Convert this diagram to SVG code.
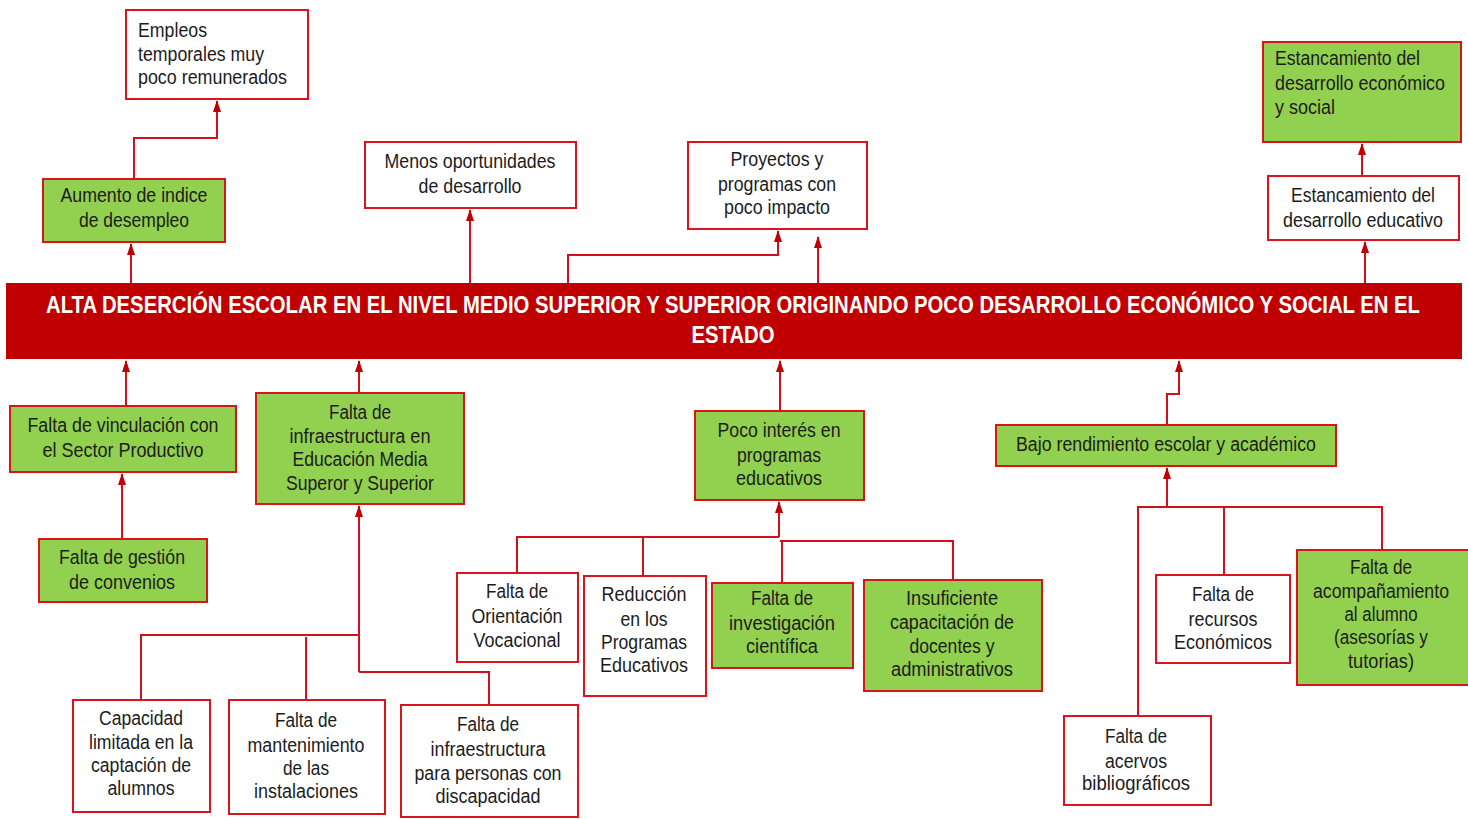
<svg xmlns="http://www.w3.org/2000/svg" width="1468" height="819" viewBox="0 0 1468 819">
<style>
.w{fill:#ffffff;stroke:#D8141C;stroke-width:2}
.g{fill:#92D050;stroke:#D8141C;stroke-width:2}
.t{font-family:"Liberation Sans",Arial,sans-serif;font-size:20px;fill:#1c1c1c;text-anchor:middle;dominant-baseline:central}
.s{text-anchor:start}
.b{font-family:"Liberation Sans",Arial,sans-serif;font-size:23px;font-weight:bold;fill:#ffffff;text-anchor:middle;dominant-baseline:central}
.c{fill:none;stroke:#D0101A;stroke-width:2}
.a{marker-end:url(#ah)}
</style>
<defs>
<marker id="ah" viewBox="0 0 12 8" refX="11" refY="4" markerWidth="12" markerHeight="8" markerUnits="userSpaceOnUse" orient="auto">
<path d="M0,0 L12,4 L0,8 z" fill="#C00000"/>
</marker>
</defs>
<rect width="1468" height="819" fill="#ffffff"/>

<g id="connectors">
<path class="c a" d="M131,283 V244"/>
<path class="c a" d="M134,179 V138 H217 V101"/>
<path class="c a" d="M470,283 V210"/>
<path class="c a" d="M568,283 V255 H778 V231"/>
<path class="c a" d="M818,283 V237"/>
<path class="c a" d="M1365,283 V242"/>
<path class="c a" d="M1362,176 V144"/>
<path class="c a" d="M126,406 V361"/>
<path class="c a" d="M122,539 V474"/>
<path class="c a" d="M359,393 V361"/>
<path class="c a" d="M780,411 V361"/>
<path class="c a" d="M1167,425 V394 H1179 V361"/>
<path class="c a" d="M359,672 V506"/>
<path class="c" d="M141,700 V635 H359"/>
<path class="c" d="M306,700 V637"/>
<path class="c" d="M489,705 V672 H359"/>
<path class="c a" d="M779,537 V502"/>
<path class="c" d="M517,573 V537 H779"/>
<path class="c" d="M643,576 V537"/>
<path class="c" d="M953,580 V541 H780"/>
<path class="c" d="M782,583 V541"/>
<path class="c a" d="M1167,507 V468"/>
<path class="c" d="M1138,716 V507 H1382 V550"/>
<path class="c" d="M1224,575 V507"/>
</g>

<g id="banner">
<rect x="6" y="283" width="1456" height="76" fill="#C00000"/>
<text class="b" x="733" y="305" textLength="1374" lengthAdjust="spacingAndGlyphs">ALTA DESERCIÓN ESCOLAR EN EL NIVEL MEDIO SUPERIOR Y SUPERIOR ORIGINANDO POCO DESARROLLO ECONÓMICO Y SOCIAL EN EL</text>
<text class="b" x="733" y="335" textLength="83" lengthAdjust="spacingAndGlyphs">ESTADO</text>
</g>

<g id="empleos">
<rect class="w" x="126" y="10" width="182" height="89"/>
<text class="t s" x="138" y="30" textLength="69" lengthAdjust="spacingAndGlyphs">Empleos</text>
<text class="t s" x="138" y="54" textLength="126" lengthAdjust="spacingAndGlyphs">temporales muy</text>
<text class="t s" x="138" y="77" textLength="149" lengthAdjust="spacingAndGlyphs">poco remunerados</text>
</g>

<g id="aumento">
<rect class="g" x="43" y="179" width="182" height="63"/>
<text class="t" x="134" y="195" textLength="147" lengthAdjust="spacingAndGlyphs">Aumento de indice</text>
<text class="t" x="134" y="220" textLength="110" lengthAdjust="spacingAndGlyphs">de desempleo</text>
</g>

<g id="menos">
<rect class="w" x="365" y="142" width="211" height="66"/>
<text class="t" x="470" y="161" textLength="171" lengthAdjust="spacingAndGlyphs">Menos oportunidades</text>
<text class="t" x="470" y="186" textLength="103" lengthAdjust="spacingAndGlyphs">de desarrollo</text>
</g>

<g id="proyectos">
<rect class="w" x="688" y="142" width="179" height="87"/>
<text class="t" x="777" y="159" textLength="93" lengthAdjust="spacingAndGlyphs">Proyectos y</text>
<text class="t" x="777" y="184" textLength="118" lengthAdjust="spacingAndGlyphs">programas con</text>
<text class="t" x="777" y="207" textLength="106" lengthAdjust="spacingAndGlyphs">poco impacto</text>
</g>

<g id="estancamiento-economico">
<rect class="g" x="1263" y="42" width="198" height="100"/>
<text class="t s" x="1275" y="58" textLength="145" lengthAdjust="spacingAndGlyphs">Estancamiento del</text>
<text class="t s" x="1275" y="83" textLength="170" lengthAdjust="spacingAndGlyphs">desarrollo económico</text>
<text class="t s" x="1275" y="107" textLength="60" lengthAdjust="spacingAndGlyphs">y social</text>
</g>

<g id="estancamiento-educativo">
<rect class="w" x="1268" y="176" width="191" height="64"/>
<text class="t" x="1363" y="195" textLength="144" lengthAdjust="spacingAndGlyphs">Estancamiento del</text>
<text class="t" x="1363" y="220" textLength="160" lengthAdjust="spacingAndGlyphs">desarrollo educativo</text>
</g>

<g id="vinculacion">
<rect class="g" x="10" y="406" width="226" height="66"/>
<text class="t" x="123" y="425" textLength="191" lengthAdjust="spacingAndGlyphs">Falta de vinculación con</text>
<text class="t" x="123" y="450" textLength="161" lengthAdjust="spacingAndGlyphs">el Sector Productivo</text>
</g>

<g id="gestion">
<rect class="g" x="39" y="539" width="168" height="63"/>
<text class="t" x="122" y="557" textLength="126" lengthAdjust="spacingAndGlyphs">Falta de gestión</text>
<text class="t" x="122" y="582" textLength="106" lengthAdjust="spacingAndGlyphs">de convenios</text>
</g>

<g id="infraestructura">
<rect class="g" x="256" y="393" width="208" height="111"/>
<text class="t" x="360" y="412" textLength="62" lengthAdjust="spacingAndGlyphs">Falta de</text>
<text class="t" x="360" y="436" textLength="141" lengthAdjust="spacingAndGlyphs">infraestructura en</text>
<text class="t" x="360" y="459" textLength="135" lengthAdjust="spacingAndGlyphs">Educación Media</text>
<text class="t" x="360" y="483" textLength="148" lengthAdjust="spacingAndGlyphs">Superor y Superior</text>
</g>

<g id="capacidad">
<rect class="w" x="73" y="700" width="137" height="112"/>
<text class="t" x="141" y="718" textLength="84" lengthAdjust="spacingAndGlyphs">Capacidad</text>
<text class="t" x="141" y="742" textLength="104" lengthAdjust="spacingAndGlyphs">limitada en la</text>
<text class="t" x="141" y="765" textLength="100" lengthAdjust="spacingAndGlyphs">captación de</text>
<text class="t" x="141" y="788" textLength="67" lengthAdjust="spacingAndGlyphs">alumnos</text>
</g>

<g id="mantenimiento">
<rect class="w" x="229" y="700" width="156" height="114"/>
<text class="t" x="306" y="720" textLength="62" lengthAdjust="spacingAndGlyphs">Falta de</text>
<text class="t" x="306" y="745" textLength="117" lengthAdjust="spacingAndGlyphs">mantenimiento</text>
<text class="t" x="306" y="768" textLength="46" lengthAdjust="spacingAndGlyphs">de las</text>
<text class="t" x="306" y="791" textLength="104" lengthAdjust="spacingAndGlyphs">instalaciones</text>
</g>

<g id="discapacidad">
<rect class="w" x="401" y="705" width="177" height="112"/>
<text class="t" x="488" y="724" textLength="62" lengthAdjust="spacingAndGlyphs">Falta de</text>
<text class="t" x="488" y="749" textLength="115" lengthAdjust="spacingAndGlyphs">infraestructura</text>
<text class="t" x="488" y="773" textLength="147" lengthAdjust="spacingAndGlyphs">para personas con</text>
<text class="t" x="488" y="796" textLength="105" lengthAdjust="spacingAndGlyphs">discapacidad</text>
</g>

<g id="poco-interes">
<rect class="g" x="695" y="411" width="169" height="89"/>
<text class="t" x="779" y="430" textLength="123" lengthAdjust="spacingAndGlyphs">Poco interés en</text>
<text class="t" x="779" y="455" textLength="84" lengthAdjust="spacingAndGlyphs">programas</text>
<text class="t" x="779" y="478" textLength="86" lengthAdjust="spacingAndGlyphs">educativos</text>
</g>

<g id="orientacion">
<rect class="w" x="457" y="573" width="121" height="89"/>
<text class="t" x="517" y="591" textLength="62" lengthAdjust="spacingAndGlyphs">Falta de</text>
<text class="t" x="517" y="616" textLength="91" lengthAdjust="spacingAndGlyphs">Orientación</text>
<text class="t" x="517" y="640" textLength="87" lengthAdjust="spacingAndGlyphs">Vocacional</text>
</g>

<g id="reduccion">
<rect class="w" x="584" y="576" width="122" height="120"/>
<text class="t" x="644" y="594" textLength="85" lengthAdjust="spacingAndGlyphs">Reducción</text>
<text class="t" x="644" y="619" textLength="47" lengthAdjust="spacingAndGlyphs">en los</text>
<text class="t" x="644" y="642" textLength="86" lengthAdjust="spacingAndGlyphs">Programas</text>
<text class="t" x="644" y="665" textLength="88" lengthAdjust="spacingAndGlyphs">Educativos</text>
</g>

<g id="investigacion">
<rect class="g" x="712" y="583" width="141" height="85"/>
<text class="t" x="782" y="598" textLength="62" lengthAdjust="spacingAndGlyphs">Falta de</text>
<text class="t" x="782" y="623" textLength="106" lengthAdjust="spacingAndGlyphs">investigación</text>
<text class="t" x="782" y="646" textLength="72" lengthAdjust="spacingAndGlyphs">científica</text>
</g>

<g id="insuficiente">
<rect class="g" x="864" y="580" width="178" height="111"/>
<text class="t" x="952" y="598" textLength="92" lengthAdjust="spacingAndGlyphs">Insuficiente</text>
<text class="t" x="952" y="622" textLength="124" lengthAdjust="spacingAndGlyphs">capacitación de</text>
<text class="t" x="952" y="646" textLength="85" lengthAdjust="spacingAndGlyphs">docentes y</text>
<text class="t" x="952" y="669" textLength="122" lengthAdjust="spacingAndGlyphs">administrativos</text>
</g>

<g id="bajo-rendimiento">
<rect class="g" x="996" y="425" width="340" height="41"/>
<text class="t" x="1166" y="444" textLength="300" lengthAdjust="spacingAndGlyphs">Bajo rendimiento escolar y académico</text>
</g>

<g id="recursos">
<rect class="w" x="1156" y="575" width="134" height="88"/>
<text class="t" x="1223" y="594" textLength="62" lengthAdjust="spacingAndGlyphs">Falta de</text>
<text class="t" x="1223" y="619" textLength="69" lengthAdjust="spacingAndGlyphs">recursos</text>
<text class="t" x="1223" y="642" textLength="98" lengthAdjust="spacingAndGlyphs">Económicos</text>
</g>

<g id="acompanamiento">
<rect class="g" x="1297" y="550" width="172" height="135"/>
<text class="t" x="1381" y="567" textLength="62" lengthAdjust="spacingAndGlyphs">Falta de</text>
<text class="t" x="1381" y="591" textLength="136" lengthAdjust="spacingAndGlyphs">acompañamiento</text>
<text class="t" x="1381" y="614" textLength="73" lengthAdjust="spacingAndGlyphs">al alumno</text>
<text class="t" x="1381" y="637" textLength="94" lengthAdjust="spacingAndGlyphs">(asesorías y</text>
<text class="t" x="1381" y="661" textLength="66" lengthAdjust="spacingAndGlyphs">tutorias)</text>
</g>

<g id="acervos">
<rect class="w" x="1064" y="716" width="147" height="89"/>
<text class="t" x="1136" y="736" textLength="62" lengthAdjust="spacingAndGlyphs">Falta de</text>
<text class="t" x="1136" y="761" textLength="62" lengthAdjust="spacingAndGlyphs">acervos</text>
<text class="t" x="1136" y="783" textLength="108" lengthAdjust="spacingAndGlyphs">bibliográficos</text>
</g>
</svg>
